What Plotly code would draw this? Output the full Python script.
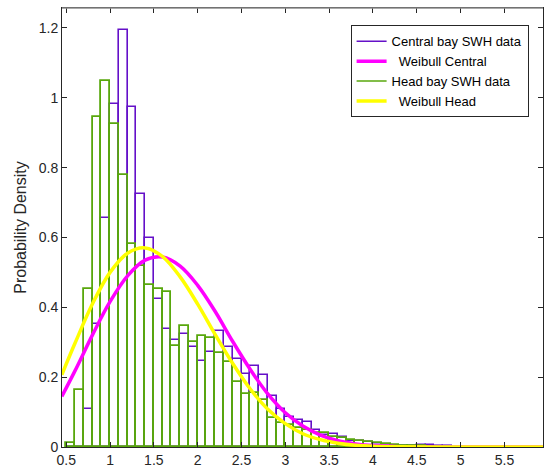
import plotly.graph_objects as go

# ---- data ----
bin_starts = [0.5, 0.6, 0.7, 0.8, 0.9, 1.0, 1.1, 1.2, 1.3, 1.4, 1.5, 1.6, 1.7, 1.8, 1.9,
              2.0, 2.1, 2.2, 2.3, 2.4, 2.5, 2.6, 2.7, 2.8, 2.9, 3.0, 3.1, 3.2, 3.3, 3.4,
              3.5, 3.6, 3.7, 3.8, 3.9, 4.0, 4.1, 4.2, 4.3, 4.4, 4.5, 4.6, 4.7, 4.8]
bin_width = 0.1

central_density = [0.0, 0.0, 0.109, 0.352, 0.657, 0.981, 1.195, 0.973, 0.724, 0.598, 0.424,
                   0.337, 0.305, 0.325, 0.285, 0.245, 0.271, 0.332, 0.286, 0.252, 0.208,
                   0.232, 0.206, 0.147, 0.109, 0.087, 0.076, 0.072, 0.050, 0.034, 0.037,
                   0.029, 0.016, 0.016, 0.013, 0.006, 0.004, 0.003, 0.002, 0.002, 0.007,
                   0.007, 0.004, 0.003]

head_density = [0.012, 0.162, 0.452, 0.944, 1.047, 0.925, 0.779, 0.581, 0.519, 0.464, 0.453,
                0.444, 0.288, 0.347, 0.302, 0.317, 0.313, 0.270, 0.243, 0.186, 0.153,
                0.154, 0.135, 0.082, 0.069, 0.064, 0.054, 0.050, 0.040, 0.040, 0.030,
                0.026, 0.019, 0.016, 0.013, 0.011, 0.009, 0.007, 0.004, 0.003, 0.002,
                0.0, 0.0, 0.0]

curve_x = [0.45, 0.6, 0.8, 1.0, 1.2, 1.4, 1.6, 1.8, 2.0, 2.2, 2.4, 2.6, 2.8, 3.0, 3.2,
           3.4, 3.6, 3.8, 4.0, 4.3, 4.7, 5.2, 5.94]
weibull_central = [0.145, 0.218, 0.321, 0.416, 0.490, 0.535, 0.544, 0.518, 0.463, 0.388,
                   0.302, 0.222, 0.152, 0.098, 0.060, 0.034, 0.018, 0.009, 0.004, 0.001,
                   0.0, 0.0, 0.0]
weibull_head = [0.207, 0.297, 0.410, 0.500, 0.555, 0.570, 0.545, 0.487, 0.409, 0.322,
                0.239, 0.166, 0.108, 0.067, 0.038, 0.021, 0.011, 0.005, 0.002, 0.0005,
                0.0, 0.0, 0.0]

x_ticks = [0.5, 1, 1.5, 2, 2.5, 3, 3.5, 4, 4.5, 5, 5.5]
x_tick_labels = ["0.5", "1", "1.5", "2", "2.5", "3", "3.5", "4", "4.5", "5", "5.5"]
y_ticks = [0, 0.2, 0.4, 0.6, 0.8, 1.0, 1.2]
y_tick_labels = ["0", "0.2", "0.4", "0.6", "0.8", "1", "1.2"]

names = ["Central bay SWH data", "\u00a0\u00a0Weibull Central",
         "Head bay SWH data", "\u00a0\u00a0Weibull Head"]

PURPLE = "#6410c8"
MAGENTA = "#ff00ff"
GREEN = "#58a70c"
YELLOW = "#ffff00"

fig = go.Figure()

fig.add_trace(go.Bar(x=bin_starts, y=central_density, width=bin_width, offset=0,
                     marker=dict(color="rgba(0,0,0,0)", line=dict(color=PURPLE, width=1.6)),
                     showlegend=False, hoverinfo="skip"))
fig.add_trace(go.Scatter(x=curve_x, y=weibull_central, mode="lines",
                         line=dict(color=MAGENTA, width=3.5, shape="spline"),
                         showlegend=False))
fig.add_trace(go.Bar(x=bin_starts, y=head_density, width=bin_width, offset=0,
                     marker=dict(color="rgba(0,0,0,0)", line=dict(color=GREEN, width=1.8)),
                     showlegend=False, hoverinfo="skip"))
fig.add_trace(go.Scatter(x=curve_x, y=weibull_head, mode="lines",
                         line=dict(color=YELLOW, width=3.5, shape="spline"),
                         showlegend=False))

# legend entries (line samples like the reference)
for i, (nm, col, w) in enumerate(zip(names, [PURPLE, MAGENTA, GREEN, YELLOW],
                                     [1.5, 3.5, 1.5, 3.5])):
    fig.add_trace(go.Scatter(x=[None], y=[None], mode="lines", name=nm,
                             line=dict(color=col, width=w)))

axis_common = dict(showline=True, linecolor="#262626", linewidth=1, mirror="ticks",
                   ticks="inside", ticklen=5, tickcolor="#262626", showgrid=False,
                   zeroline=False, tickfont=dict(family="Liberation Sans, Arial", size=14,
                                                 color="#262626"))

fig.update_layout(
    width=547, height=475,
    margin=dict(l=62, r=4, t=8, b=28),
    paper_bgcolor="white", plot_bgcolor="white",
    barmode="overlay", bargap=0,
    xaxis=dict(range=[0.452, 5.94], tickvals=x_ticks, ticktext=x_tick_labels, **axis_common),
    yaxis=dict(range=[0, 1.257], tickvals=y_ticks, ticktext=y_tick_labels,
               title=dict(text="Probability Density", standoff=8,
                          font=dict(family="Liberation Sans, Arial", size=16, color="#262626")),
               **axis_common),
    legend=dict(x=0.600, y=0.9605, xanchor="left", yanchor="top",
                bgcolor="white", bordercolor="#262626", borderwidth=1,
                font=dict(family="Liberation Sans, Arial", size=13, color="black"),
                itemwidth=30, tracegroupgap=0),
    font=dict(family="Liberation Sans, Arial"),
    shapes=[dict(type="line", xref="paper", yref="paper", x0=0, x1=1, y0=1, y1=1,
                 line=dict(color="#8c8c8c", width=1.5), layer="above")],
)

fig.write_html("out.html", config={"displayModeBar": False},
               post_script="document.body.style.margin='0';")
